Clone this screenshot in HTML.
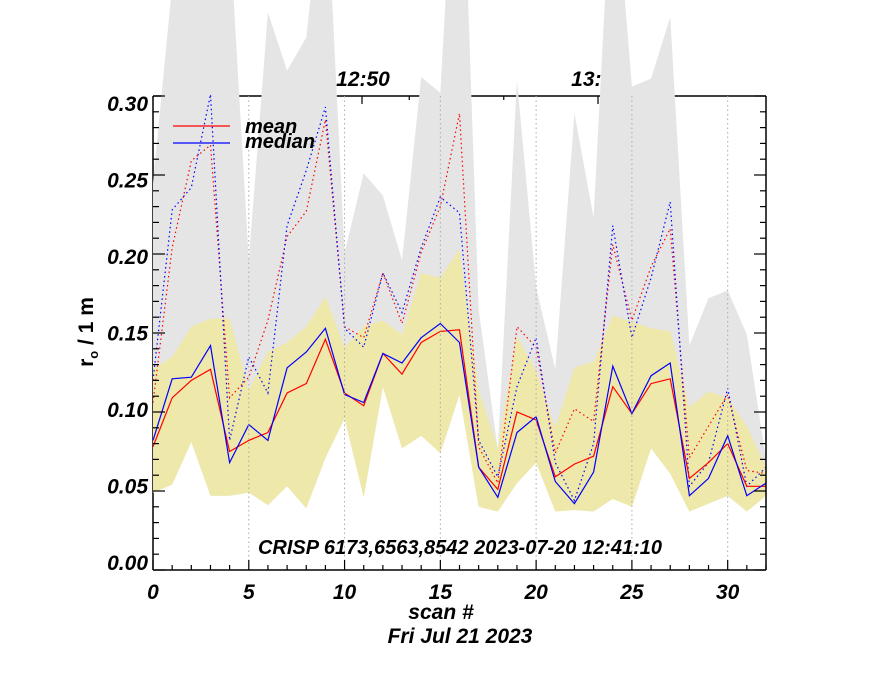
<!DOCTYPE html>
<html><head><meta charset="utf-8"><style>
html,body{margin:0;padding:0;background:#fff;}
svg{display:block;font-family:"Liberation Sans",sans-serif;font-weight:bold;font-style:italic;}
</style></head><body>
<svg id="chart" width="880" height="680" viewBox="0 0 880 680" xmlns="http://www.w3.org/2000/svg"></svg>
<script>
const scans = [0,1,2,3,4,5,6,7,8,9,10,11,12,13,14,15,16,17,18,19,20,21,22,23,24,25,26,27,28,29,30,31,32];
const meanVals = [.078,.109,.120,.127,.075,.082,.087,.112,.118,.146,.112,.104,.137,.124,.144,.151,.152,.065,.051,.100,.095,.059,.067,.072,.116,.099,.118,.121,.058,.068,.080,.053,.053];
const medianVals = [.082,.121,.122,.142,.068,.092,.082,.128,.138,.153,.111,.106,.137,.131,.147,.156,.144,.065,.046,.087,.097,.056,.042,.062,.129,.099,.123,.131,.047,.058,.085,.047,.055];
const meanHigh = [.106,.204,.259,.269,.109,.122,.158,.211,.227,.285,.154,.147,.188,.156,.201,.230,.289,.078,.055,.154,.141,.074,.102,.094,.206,.158,.192,.216,.071,.091,.111,.063,.061];
const medianHigh = [.120,.228,.242,.301,.082,.135,.112,.218,.253,.293,.153,.141,.188,.163,.204,.236,.226,.082,.059,.116,.147,.068,.044,.080,.218,.147,.185,.233,.053,.068,.115,.053,.065];
const bandLow = [.049,.054,.081,.047,.047,.049,.041,.053,.039,.071,.096,.046,.116,.077,.085,.074,.111,.040,.037,.055,.068,.037,.038,.037,.045,.040,.077,.061,.037,.042,.047,.037,.047];
const bandHigh = [.127,.135,.154,.159,.159,.114,.138,.144,.154,.173,.141,.154,.158,.149,.188,.185,.203,.114,.077,.148,.126,.090,.128,.132,.161,.157,.153,.151,.103,.113,.109,.091,.065];
const grayHigh = [.245,.370,.400,.400,.405,.196,.353,.316,.337,.447,.201,.251,.237,.196,.312,.302,.520,.165,.076,.310,.179,.127,.289,.223,.456,.306,.311,.350,.142,.172,.177,.149,.070];
const yTicks = [0,0.05,0.10,0.15,0.20,0.25,0.30];
const xTicks = [0,5,10,15,20,25,30];

const NS="http://www.w3.org/2000/svg";
const svg=document.getElementById('chart');
const X0=153,X1=766,Y0=570,Y1=96;
const xs=i=>X0+(i-0)*(X1-X0)/32;
const ys=v=>Y0-v*(Y0-Y1)/0.30;
function mk(tag,attrs,parent){const e=document.createElementNS(NS,tag);for(const k in attrs)e.setAttribute(k,attrs[k]);(parent||svg).appendChild(e);return e;}
const defs=mk('defs',{});
const cp=mk('clipPath',{id:'pc'},defs);
mk('rect',{x:X0,y:0,width:X1-X0,height:Y0},cp);

// top axis with time labels (drawn under the gray band)
let e=mk('line',{x1:X0,y1:Y1,x2:X1,y2:Y1,stroke:'#000','stroke-width':1.5});


for(let k=-4;k<=3;k++){const tx=362+k*47.25;if(tx<X0||tx>X1)continue;const major=(k===0||k===5);
 mk('line',{x1:tx,y1:Y1,x2:tx,y2:Y1+(major?8:4),stroke:'#000','stroke-width':1.2});}
mk('line',{x1:598,y1:Y1,x2:598,y2:Y1+8,stroke:'#000','stroke-width':1.2});
e=mk('text',{x:363,y:86,'font-size':21,'text-anchor':'middle'});e.textContent='12:50';


e=mk('text',{x:598,y:86,'font-size':21,'text-anchor':'middle'});e.textContent='13:00';


e=mk('line',{x1:X0,y1:Y1,x2:X0,y2:Y0,stroke:'#000','stroke-width':1.5});



const g=mk('g',{'clip-path':'url(#pc)'});
function bandPath(hi,lo){let d='';scans.forEach((s,i)=>{d+=(i?'L':'M')+xs(s)+','+ys(hi[i]);});
 for(let i=scans.length-1;i>=0;i--)d+='L'+xs(scans[i])+','+ys(lo[i]);return d+'Z';}
e=mk('path',{d:bandPath(grayHigh,bandLow),fill:'#e5e5e5'},g);


e=mk('path',{d:bandPath(bandHigh,bandLow),fill:'#eee8aa'},g);


xTicks.slice(1).forEach(t=>{
 e=mk('line',{x1:xs(t),y1:Y1,x2:xs(t),y2:Y0,stroke:'#aaa','stroke-width':1,'stroke-dasharray':'1.5,3'});
 
 
});
function line(vals,color,dash,name){let d='';scans.forEach((s,i)=>{d+=(i?'L':'M')+xs(s).toFixed(1)+','+ys(vals[i]).toFixed(1);});
 const p=mk('path',{d:d,fill:'none',stroke:color,'stroke-width':1.2},g);if(dash)p.setAttribute('stroke-dasharray',dash);
 
 }
line(meanHigh,'#ff0000','1.5,3','mean-dotted-line');
line(medianHigh,'#0000ff','1.5,3','median-dotted-line');
line(meanVals,'#ff0000',null,'mean-line');
line(medianVals,'#0000ff',null,'median-line');

// right & bottom axes
e=mk('line',{x1:X1,y1:Y1,x2:X1,y2:Y0,stroke:'#000','stroke-width':1.5});


e=mk('line',{x1:X0,y1:Y0,x2:X1,y2:Y0,stroke:'#000','stroke-width':1.5});


for(let s=0;s<=32;s++){const major=s%5===0;mk('line',{x1:xs(s),y1:Y0,x2:xs(s),y2:Y0-(major?10:5),stroke:'#000','stroke-width':1.2});}
for(let k=0;k<=30;k++){const v=k/100;const major=k%5===0;const L=major?12:6;
 mk('line',{x1:X0,y1:ys(v),x2:X0+L,y2:ys(v),stroke:'#000','stroke-width':1.2});
 mk('line',{x1:X1,y1:ys(v),x2:X1-L,y2:ys(v),stroke:'#000','stroke-width':1.2});}
yTicks.forEach(v=>{const t=mk('text',{x:148,y:111+(0.30-v)/0.05*76.5,'font-size':21,'text-anchor':'end'});t.textContent=v.toFixed(2);
 
 });
xTicks.forEach(v=>{const t=mk('text',{x:xs(v),y:599,'font-size':21,'text-anchor':'middle'});t.textContent=String(v);
 
 });

// legend
mk('line',{x1:173,y1:126,x2:230,y2:126,stroke:'#ff0000','stroke-width':1.3});
mk('line',{x1:173,y1:143,x2:230,y2:143,stroke:'#0000ff','stroke-width':1.3});
e=mk('text',{x:245,y:133,'font-size':20});e.textContent='mean';


e=mk('text',{x:245,y:148,'font-size':20});e.textContent='median';



e=mk('text',{x:460,y:554,'font-size':20,'text-anchor':'middle'});e.textContent='CRISP 6173,6563,8542 2023-07-20 12:41:10';


e=mk('text',{x:441,y:619,'font-size':21,'text-anchor':'middle'});e.textContent='scan #';


e=mk('text',{x:460,y:643,'font-size':21,'text-anchor':'middle'});e.textContent='Fri Jul 21 2023';


e=mk('text',{x:0,y:0,'font-size':21,'text-anchor':'middle','font-style':'normal',transform:'translate(93,332) rotate(-90)'});
e.innerHTML='r<tspan font-size="13" dy="5">o</tspan><tspan dy="-5"> / 1 m</tspan>';


</script>
</body></html>
